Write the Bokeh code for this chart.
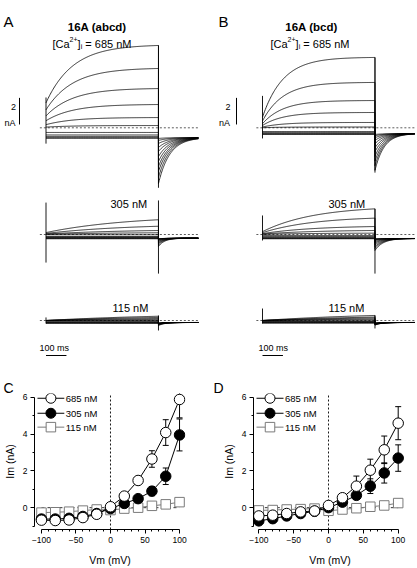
import numpy as np
from bokeh.plotting import figure
from bokeh.models import Label, Range1d, FixedTicker
from bokeh.layouts import column, row
from bokeh.embed import file_html
from bokeh.resources import INLINE

FONT = "Liberation Sans"

# ------------------------------------------------------------------ data
# I-V relations (mean +/- s.e.m.), panels C and D
vm = [-100, -80, -60, -40, -20, 0, 20, 40, 60, 80, 100]

c_685 = [-0.68, -0.70, -0.67, -0.54, -0.36, 0.05, 0.63, 1.48, 2.65, 4.09, 5.89]
c_685_err = [0.04, 0.04, 0.04, 0.04, 0.04, 0.05, 0.08, 0.15, 0.45, 0.70, 1.00]
c_305 = [-0.62, -0.62, -0.58, -0.48, -0.32, -0.05, 0.23, 0.49, 0.90, 1.71, 3.96]
c_305_err = [0.04, 0.04, 0.04, 0.04, 0.04, 0.04, 0.06, 0.10, 0.25, 0.45, 0.87]
c_115 = [-0.27, -0.25, -0.22, -0.16, -0.10, -0.13, -0.05, 0.00, 0.10, 0.18, 0.30]
c_115_err = [0.03, 0.03, 0.03, 0.03, 0.03, 0.03, 0.03, 0.03, 0.04, 0.05, 0.06]

d_685 = [-0.45, -0.41, -0.32, -0.23, -0.18, 0.12, 0.54, 1.17, 2.04, 3.15, 4.60]
d_685_err = [0.04, 0.04, 0.04, 0.04, 0.04, 0.06, 0.15, 0.55, 0.60, 0.75, 0.90]
d_305 = [-0.72, -0.60, -0.45, -0.32, -0.20, 0.00, 0.30, 0.67, 1.17, 1.89, 2.70]
d_305_err = [0.05, 0.05, 0.05, 0.05, 0.04, 0.04, 0.08, 0.20, 0.40, 0.55, 0.72]
d_115 = [-0.15, -0.13, -0.10, -0.08, -0.05, -0.17, -0.10, -0.03, 0.05, 0.12, 0.25]
d_115_err = [0.03, 0.03, 0.03, 0.03, 0.03, 0.03, 0.03, 0.03, 0.04, 0.05, 0.06]

series_labels = ["685 nM", "305 nM", "115 nM"]

# current traces: value at end of each step (-100..+100 mV, 20 mV), nA,
# and peak of the tail current after the step
a685_end = [-0.80, -0.73, -0.65, -0.54, -0.35, 0.17, 0.77, 1.75, 2.95, 4.46, 6.19]
a685_tail = [-0.80, -0.95, -1.18, -1.48, -1.78, -2.16, -2.53, -2.91, -3.28, -3.73, -4.19]
b685_end = [-0.50, -0.47, -0.43, -0.35, -0.28, 0.06, 0.40, 1.15, 2.05, 3.41, 5.29]
b685_tail = [-0.50, -0.60, -0.75, -0.95, -1.20, -1.50, -1.80, -2.15, -2.50, -2.85, -3.20]
a305_end = [-0.32, -0.30, -0.26, -0.23, -0.19, -0.15, -0.02, 0.13, 0.30, 0.62, 1.11]
a305_tail = [-0.32, -0.33, -0.34, -0.36, -0.40, -0.46, -0.52, -0.60, -0.68, -0.78, -0.90]
b305_end = [-0.32, -0.30, -0.26, -0.23, -0.15, -0.08, 0.10, 0.30, 0.60, 1.23, 1.93]
b305_tail = [-0.32, -0.34, -0.36, -0.40, -0.45, -0.55, -0.65, -0.78, -0.92, -1.05, -1.20]
a115_end = [-0.21, -0.19, -0.17, -0.14, -0.10, -0.05, 0.00, 0.08, 0.15, 0.23, 0.32]
a115_tail = [-0.20, -0.20, -0.21, -0.22, -0.23, -0.25, -0.27, -0.29, -0.31, -0.34, -0.38]
b115_end = [-0.20, -0.17, -0.15, -0.11, -0.08, -0.04, 0.04, 0.11, 0.19, 0.26, 0.38]
b115_tail = [-0.20, -0.20, -0.21, -0.22, -0.23, -0.25, -0.27, -0.29, -0.31, -0.33, -0.35]

# per record: holding current, initial fraction, activation tau (ms),
# tail tau (ms), capacitive transient extremes at step on / off (nA)
hold = {"a685": -0.73, "b685": -0.43, "a305": -0.28, "b305": -0.30, "a115": -0.15, "b115": -0.15}
f_init = {"a685": 0.30, "b685": 0.15, "a305": 0.10, "b305": 0.10, "a115": 0.0, "b115": 0.0}
tau_on = {"a685": 130, "b685": 100, "a305": 400, "b305": 250, "a115": 600, "b115": 600}
tau_tail = {"a685": 55, "b685": 45, "a305": 30, "b305": 40, "a115": 30, "b115": 30}
trans_on = {"a685": (2.28, -1.19), "b685": (2.40, -0.80), "a305": (2.40, -2.11),
            "b305": (1.43, -0.45), "a115": (0.23, -0.23), "b115": (0.90, -0.23)}
trans_off = {"a685": (6.19, -4.51), "b685": (5.29, -3.37), "a305": (2.56, -2.94),
             "b305": (1.93, -2.94), "a115": (0.38, -0.75), "b115": (0.38, -0.60)}
STEP_MS = 550
TAIL_MS = 195

# ------------------------------------------------------------------ layout
PAGE_OFF = 0
W, H = 417, 568
TOP_BOTTOM = 393          # reference y where the I-V row starts
TOP_H = TOP_BOTTOM - PAGE_OFF
BOT_H = H - PAGE_OFF - TOP_BOTTOM

PX_MS = 0.2045
PX_NA = 13.3
A_T0 = 45.5
B_T0 = 262.0
ROW_BASE = [127.3, 234.0, 320.0]
B_OFF = (B_T0 - A_T0) / PX_MS


def tx(r):
    return (r - A_T0) / PX_MS


def ty(r):
    return (ROW_BASE[0] - r) / PX_NA


pt = figure(width=W - 2 * PAGE_OFF, height=TOP_H,
            x_range=Range1d(tx(PAGE_OFF), tx(W - PAGE_OFF)),
            y_range=Range1d(ty(TOP_BOTTOM), ty(PAGE_OFF)),
            output_backend="svg", toolbar_location=None, title=None,
            x_axis_type=None, y_axis_type=None, min_border=0)
pt.xgrid.visible = False
pt.ygrid.visible = False
pt.outline_line_color = None
pt.background_fill_color = "white"

records = [
    ("a685", a685_end, a685_tail, 0.0, 0),
    ("b685", b685_end, b685_tail, B_OFF, 0),
    ("a305", a305_end, a305_tail, 0.0, 1),
    ("b305", b305_end, b305_tail, B_OFF, 1),
    ("a115", a115_end, a115_tail, 0.0, 2),
    ("b115", b115_end, b115_tail, B_OFF, 2),
]

t_on = np.linspace(0, STEP_MS, 160)
t_off = np.linspace(STEP_MS, STEP_MS + TAIL_MS, 100)
for key, ends, tails, xo, rowi in records:
    yo = ty(ROW_BASE[rowi])
    # zero-current line
    pt.segment(x0=[xo - 30], y0=[yo], x1=[xo + STEP_MS + TAIL_MS], y1=[yo],
               line_color="#333333", line_width=0.8, line_dash="2 2")
    xs, ys = [], []
    for e, tl in zip(ends, tails):
        if e > 0:
            shape = 1 - (1 - f_init[key]) * np.exp(-t_on / tau_on[key])
            i_on = e * shape / shape[-1]
        else:
            i_on = np.full_like(t_on, e)
        i_off = hold[key] + (tl - hold[key]) * np.exp(-(t_off - STEP_MS) / tau_tail[key])
        xs.append(np.concatenate([t_on, t_off]) + xo)
        ys.append(np.concatenate([i_on, i_off]) + yo)
    pt.multi_line(xs=xs, ys=ys, line_color="black", line_width=0.8)
    pt.segment(x0=[xo, xo + STEP_MS], y0=[yo + trans_on[key][0], yo + trans_off[key][0]],
               x1=[xo, xo + STEP_MS], y1=[yo + trans_on[key][1], yo + trans_off[key][1]],
               line_color="black", line_width=0.9)

# scale bars (2 nA, 100 ms)
for xo, bar_px in ((0.0, 19.0), (B_OFF, 236.0)):
    xb = tx(bar_px)
    pt.segment(x0=[xb], y0=[0.25], x1=[xb], y1=[2.25], line_color="black", line_width=1)
    yb = ty(355)
    pt.segment(x0=[xo], y0=[yb], x1=[xo + 100], y1=[yb], line_color="black", line_width=1)


def lab(fig, x, y, text, size, align="left", base="alphabetic", bold=False, angle=0.0):
    fig.add_layout(Label(x=x, y=y, text=text, text_font=FONT, text_font_size=size,
                         text_align=align, text_baseline=base, text_color="black",
                         text_font_style="bold" if bold else "normal", angle=angle))


lab(pt, tx(max(3, PAGE_OFF)), ty(20.5), "A", "15px")
lab(pt, tx(218), ty(20.5), "B", "15px")
lab(pt, tx(max(3, PAGE_OFF)), ty(387), "C", "14px")
lab(pt, tx(213), ty(387), "D", "14px")
lab(pt, tx(96.7), ty(26.5), "16A (abcd)", "11.5px", align="center", bold=True)
lab(pt, tx(311), ty(26.5), "16A (bcd)", "11.5px", align="center", bold=True)
for x0 in (52.0, 270.0):
    lab(pt, tx(x0), ty(43), "[Ca", "11px")
    lab(pt, tx(x0 + 17.1), ty(38.5), "2+", "7px")
    lab(pt, tx(x0 + 25.1), ty(43), "]", "11px")
    lab(pt, tx(x0 + 28.2), ty(45.5), "i", "7px")
    lab(pt, tx(x0 + 32.8), ty(43), "= 685 nM", "11px")
for xr in (15.5, 230.0):
    lab(pt, tx(xr), ty(106), "2", "9px", align="right")
    lab(pt, tx(xr - 0.5), ty(122), "nA", "9px", align="right")
for xl in (110.0, 328.0):
    lab(pt, tx(xl), ty(203), "305 nM", "11px")
for xl in (112.0, 328.0):
    lab(pt, tx(xl), ty(307), "115 nM", "11px")
for xl in (39.0, 258.0):
    lab(pt, tx(xl), ty(347), "100 ms", "9px")

# ------------------------------------------------------------------ I-V panels
PX_NA_IV = 18.5
Y0_PX = 508.0
FRAME_TOP, FRAME_BOT = TOP_BOTTOM, 530


def make_iv(c_left, c_right, f_left, f_right, px_m100, px_p100,
            y685, e685, y305, e305, y115, e115):
    pxmv = (px_p100 - px_m100) / 200.0
    xs = -100 - (px_m100 - f_left) / pxmv
    xe = 100 + (f_right - px_p100) / pxmv
    fx = lambda r: xs + (r - f_left) / pxmv
    fy = lambda r: (Y0_PX - r) / PX_NA_IV
    p = figure(width=int(c_right - c_left), height=BOT_H,
               x_range=Range1d(xs, xe), y_range=Range1d(fy(FRAME_BOT), fy(FRAME_TOP)),
               output_backend="svg", toolbar_location=None, title=None,
               min_border_left=int(f_left - c_left), min_border_right=int(c_right - f_right),
               min_border_top=FRAME_TOP - TOP_BOTTOM, min_border_bottom=int(H - PAGE_OFF - FRAME_BOT))
    p.xgrid.visible = False
    p.ygrid.visible = False
    p.outline_line_color = None
    p.xaxis.bounds = (-100, 100)
    p.yaxis.bounds = (-1, 6)
    p.xaxis.ticker = FixedTicker(ticks=[-100, -50, 0, 50, 100],
                                 minor_ticks=[v for v in range(-90, 100, 10) if v % 50])
    p.yaxis.ticker = FixedTicker(ticks=[0, 2, 4, 6], minor_ticks=[-1, 1, 3, 5])
    p.xaxis.axis_label = "Vm (mV)"
    p.yaxis.axis_label = "Im (nA)"
    p.xaxis.axis_label_standoff = 8
    p.yaxis.axis_label_standoff = 4
    for ax in (p.xaxis, p.yaxis):
        ax.major_tick_out = 4
        ax.major_tick_in = 0
        ax.minor_tick_out = 2
        ax.minor_tick_in = 0
        ax.axis_line_color = "black"
        ax.major_tick_line_color = "black"
        ax.minor_tick_line_color = "black"
        ax.major_label_text_font = FONT
        ax.major_label_text_font_size = "8.5px"
        ax.major_label_text_color = "black"
        ax.major_label_standoff = 3
        ax.axis_label_text_font = FONT
        ax.axis_label_text_font_size = "10.5px"
        ax.axis_label_text_font_style = "normal"
        ax.axis_label_text_color = "black"

    # zero lines
    p.segment(x0=[0], y0=[fy(FRAME_BOT)], x1=[0], y1=[fy(FRAME_TOP)],
              line_color="black", line_width=0.9, line_dash="2 2")
    p.segment(x0=[-100], y0=[0], x1=[100], y1=[0],
              line_color="black", line_width=0.8, line_dash="3 3")

    cap = 3.0 / pxmv
    x = np.array(vm, dtype=float)
    styles = [
        (np.array(y115), np.array(e115), "#7a7a7a"),
        (np.array(y305), np.array(e305), "black"),
        (np.array(y685), np.array(e685), "black"),
    ]
    for yv, ev, col in styles:
        p.segment(x0=x, y0=yv - ev, x1=x, y1=yv + ev, line_color=col, line_width=1)
        p.segment(x0=x - cap, y0=yv + ev, x1=x + cap, y1=yv + ev, line_color=col, line_width=1)
        p.segment(x0=x - cap, y0=yv - ev, x1=x + cap, y1=yv - ev, line_color=col, line_width=1)
    for yv, ev, col in styles:
        p.line(x, yv, line_color=col, line_width=1)
    p.scatter(x, np.array(y115), marker="square", size=9.5, fill_color="white",
              line_color="#7a7a7a", line_width=1)
    p.scatter(x, np.array(y305), marker="circle", size=10.5, fill_color="black",
              line_color="black", line_width=1)
    p.scatter(x, np.array(y685), marker="circle", size=10.5, fill_color="white",
              line_color="black", line_width=1)

    # legend
    rows_px = [397.8, 412.9, 426.9]
    lx0, lx1 = f_left + 3, f_left + 30
    mk = [("circle", "white", "black"), ("circle", "black", "black"), ("square", "white", "#7a7a7a")]
    for (m, fc, lc), rp, txt in zip(mk, rows_px, series_labels):
        p.segment(x0=[fx(lx0)], y0=[fy(rp)], x1=[fx(lx1)], y1=[fy(rp)], line_color=lc, line_width=1)
        p.scatter([fx((lx0 + lx1) / 2)], [fy(rp)], marker=m, size=10 if m == "circle" else 9.5,
                  fill_color=fc, line_color=lc, line_width=1)
        lab(p, fx(lx1 + 1.5), fy(rp), txt, "9.5px", base="middle")
    return p


pc = make_iv(PAGE_OFF, 213, 33, 185, 40.0, 179.0,
             c_685, c_685_err, c_305, c_305_err, c_115, c_115_err)
pd = make_iv(213, W - PAGE_OFF, 253, 406, 258.3, 397.7,
             d_685, d_685_err, d_305, d_305_err, d_115, d_115_err)

layout = column(pt, row(pc, pd, spacing=0), spacing=0)
open("out.html", "w").write(file_html(layout, INLINE))
